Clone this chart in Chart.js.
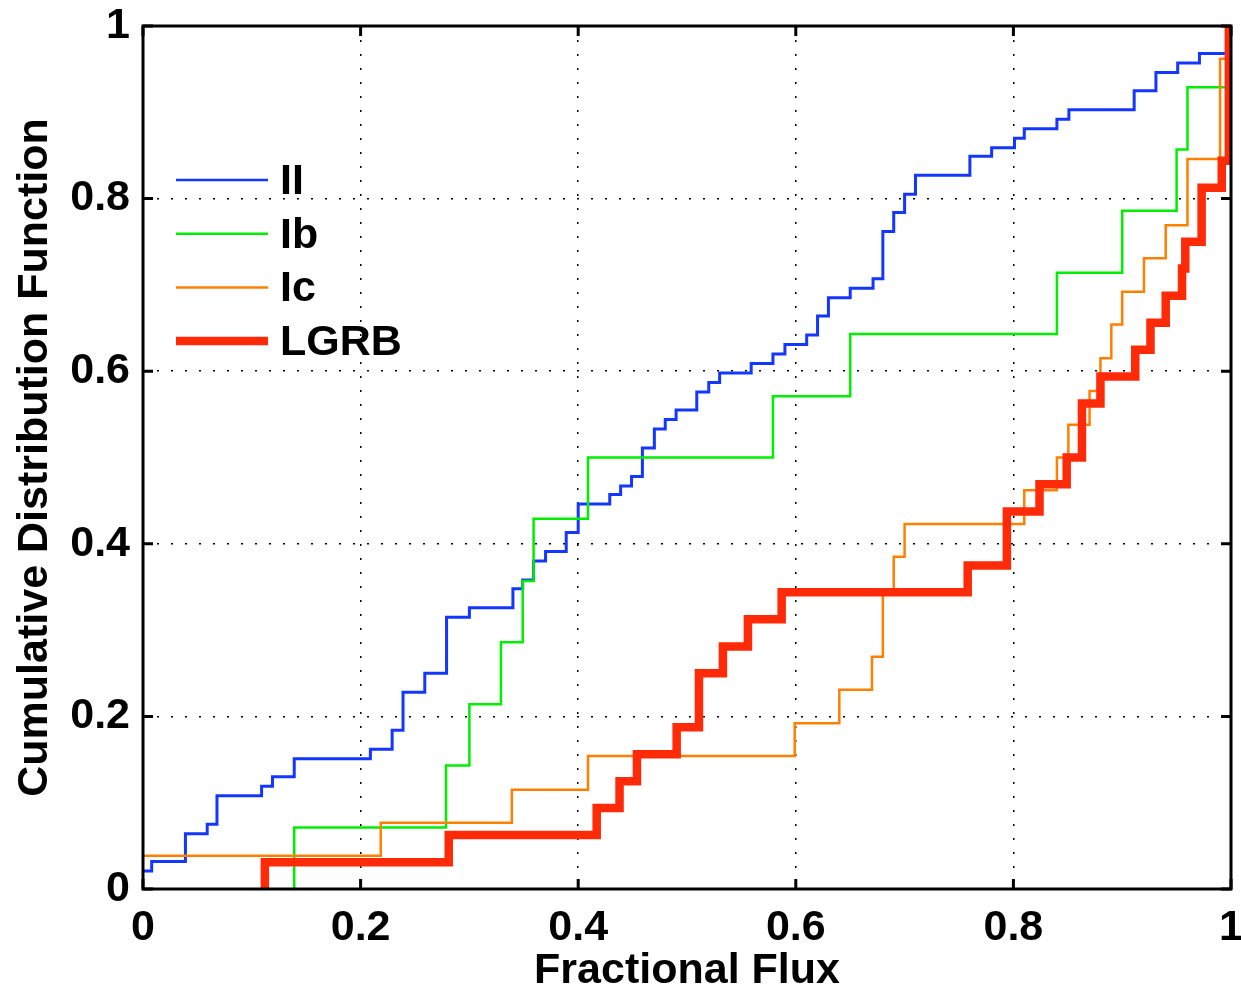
<!DOCTYPE html>
<html>
<head>
<meta charset="utf-8">
<script src="https://cdn.jsdelivr.net/npm/chart.js@4.4.1/dist/chart.umd.min.js"></script>
<style>
    html, body { margin: 0; padding: 0; background: #fff; }
    #cdfChart { display: block; }
</style>
</head>
<body>
<canvas id="cdfChart" width="1241" height="993"></canvas>
<script>
var xTickLabels = ["0", "0.2", "0.4", "0.6", "0.8", "1"];
var yTickLabels = ["0", "0.2", "0.4", "0.6", "0.8", "1"];

// II
var fluxII = [0, 0.008, 0.039, 0.059, 0.068, 0.109, 0.119, 0.139, 0.209, 0.229, 0.239, 0.259, 0.279, 0.300,
    0.340, 0.349, 0.359, 0.370, 0.389, 0.400, 0.429, 0.439, 0.449, 0.459, 0.470, 0.480, 0.490, 0.509,
    0.520, 0.530, 0.559, 0.579, 0.590, 0.610, 0.620, 0.630, 0.650, 0.671, 0.680, 0.690, 0.700, 0.710,
    0.760, 0.780, 0.801, 0.810, 0.840, 0.851, 0.911, 0.931, 0.951, 0.971, 1.0];
var cdfII = [0.021, 0.032, 0.064, 0.075, 0.108, 0.119, 0.130, 0.151, 0.162, 0.184, 0.228, 0.250, 0.315, 0.326,
    0.348, 0.358, 0.380, 0.391, 0.413, 0.446, 0.457, 0.467, 0.478, 0.511, 0.533, 0.544, 0.555, 0.576,
    0.587, 0.598, 0.609, 0.620, 0.631, 0.642, 0.664, 0.685, 0.696, 0.707, 0.762, 0.784, 0.805, 0.827,
    0.849, 0.859, 0.870, 0.881, 0.892, 0.903, 0.925, 0.946, 0.957, 0.968, 1.0];

// Ib
var fluxIb = [0.139, 0.139, 0.2785, 0.300, 0.329, 0.349, 0.359, 0.409, 0.579, 0.650, 0.840, 0.900, 0.950, 0.960, 1.0];
var cdfIb = [0, 0.0714, 0.143, 0.214, 0.286, 0.357, 0.429, 0.500, 0.571, 0.643, 0.714, 0.786, 0.857, 0.929, 1.0];

// Ic
var fluxIc = [0, 0.2185, 0.339, 0.409, 0.599, 0.640, 0.670, 0.680, 0.690, 0.700, 0.810, 0.840, 0.8505,
    0.870, 0.880, 0.890, 0.900, 0.920, 0.940, 0.960, 0.990, 1.0];
var cdfIc = [0.0385, 0.0769, 0.115, 0.154, 0.192, 0.231, 0.269, 0.346, 0.385, 0.423, 0.462, 0.500, 0.538,
    0.577, 0.615, 0.654, 0.692, 0.731, 0.769, 0.846, 0.962, 1.0];

// LGRB
var fluxLGRB = [0.112, 0.112, 0.281, 0.417, 0.438, 0.454, 0.4905, 0.511, 0.533, 0.556, 0.587, 0.758, 0.794,
    0.824, 0.849, 0.863, 0.880, 0.912, 0.926, 0.940, 0.955, 0.958, 0.973, 0.9915, 0.998];
var cdfLGRB = [0, 0.031, 0.0625, 0.094, 0.125, 0.156, 0.1875, 0.250, 0.281, 0.3125, 0.344, 0.375, 0.4375,
    0.469, 0.500, 0.5625, 0.594, 0.625, 0.656, 0.6875, 0.719, 0.750, 0.8125, 0.844, 1.0];

var labelFont = { family: "'Liberation Sans', Arial, sans-serif", size: 43, weight: "bold" };

let toPoints = (xs, ys) => xs.map((x, i) => ({ x: x, y: ys[i] }));

// marco negro y marcas hacia dentro (estilo MATLAB)
var framePlugin = {
    id: "frame",
    afterDatasetsDraw: function(chart) {
        var ctx = chart.ctx;
        var a = chart.chartArea;
        var xs = chart.scales.x;
        var ys = chart.scales.y;
        ctx.save();
        ctx.strokeStyle = "#000";
        ctx.lineWidth = 3;
        ctx.strokeRect(a.left, a.top, a.right - a.left, a.bottom - a.top);
        ctx.beginPath();
        xs.ticks.forEach(function(t) {
            var px = xs.getPixelForValue(t.value);
            ctx.moveTo(px, a.bottom); ctx.lineTo(px, a.bottom - 10);
            ctx.moveTo(px, a.top); ctx.lineTo(px, a.top + 10);
        });
        ys.ticks.forEach(function(t) {
            var py = ys.getPixelForValue(t.value);
            ctx.moveTo(a.left, py); ctx.lineTo(a.left + 10, py);
            ctx.moveTo(a.right, py); ctx.lineTo(a.right - 10, py);
        });
        ctx.stroke();
        ctx.restore();
    }
};

// leyenda sin caja dentro del area
var legendPlugin = {
    id: "innerLegend",
    afterDraw: function(chart) {
        var ctx = chart.ctx;
        var a = chart.chartArea;
        ctx.save();
        ctx.font = "bold 43px 'Liberation Sans', Arial, sans-serif";
        ctx.textBaseline = "middle";
        ctx.textAlign = "left";
        chart.data.datasets.forEach(function(ds, i) {
            var y = a.top + 154 + i * 53.7;
            ctx.strokeStyle = ds.borderColor;
            ctx.lineWidth = ds.legendWidth;
            ctx.beginPath();
            ctx.moveTo(a.left + 33, y);
            ctx.lineTo(a.left + 125, y);
            ctx.stroke();
            ctx.fillStyle = "#000";
            ctx.fillText(ds.label, a.left + 137, y + 2);
        });
        ctx.restore();
    }
};

const data = {
    datasets: [
        { label: "II", data: toPoints(fluxII, cdfII), borderColor: "rgb(20,55,255)", borderWidth: 3, legendWidth: 2.5, order: 4 },
        { label: "Ib", data: toPoints(fluxIb, cdfIb), borderColor: "rgb(0,238,0)", borderWidth: 2.5, legendWidth: 2.5, order: 3 },
        { label: "Ic", data: toPoints(fluxIc, cdfIc), borderColor: "rgb(255,128,0)", borderWidth: 2.5, legendWidth: 2.5, order: 2 },
        { label: "LGRB", data: toPoints(fluxLGRB, cdfLGRB), borderColor: "rgb(255,42,8)", borderWidth: 8.5, legendWidth: 8.5, order: 1 }
    ]
};
data.datasets.forEach(function(ds) {
    ds.stepped = true;
    ds.pointRadius = 0;
    ds.fill = false;
    ds.borderJoinStyle = "miter";
    ds.borderCapStyle = "butt";
});

const config = {
    type: "line",
    data: data,
    options: {
        responsive: false,
        animation: false,
        devicePixelRatio: 1,
        layout: { padding: { left: 0, top: 26, right: 10, bottom: 0 } },
        plugins: { legend: { display: false }, tooltip: { enabled: false } },
        scales: {
            x: {
                type: "linear",
                min: 0,
                max: 1,
                ticks: {
                    stepSize: 0.2,
                    padding: 13,
                    color: "#000",
                    font: labelFont,
                    maxRotation: 0,
                    callback: (v, i) => xTickLabels[i]
                },
                grid: { color: "#000", lineWidth: 1.5, drawTicks: false },
                border: { display: false, dash: [2, 12] },
                title: {
                    display: true,
                    text: "Fractional Flux",
                    color: "#000",
                    font: { family: labelFont.family, size: 43, weight: "bold", lineHeight: 1.0 },
                    padding: { top: 0, bottom: 0 }
                },
                afterFit: function(s) {
                    s.height = 104;
                    s.paddingLeft = 0;
                    s.paddingRight = 0;
                }
            },
            y: {
                type: "linear",
                min: 0,
                max: 1,
                ticks: {
                    stepSize: 0.2,
                    padding: 13,
                    color: "#000",
                    font: labelFont,
                    callback: (v, i) => yTickLabels[i]
                },
                grid: { color: "#000", lineWidth: 1.5, drawTicks: false },
                border: { display: false, dash: [2, 12] },
                title: {
                    display: true,
                    text: "Cumulative Distribution Function",
                    color: "#000",
                    font: { family: labelFont.family, size: 43, weight: "bold", lineHeight: 1.2 },
                    padding: { top: 9, bottom: 0 }
                },
                afterFit: function(s) {
                    s.width = 143;
                    s.paddingTop = 0;
                    s.paddingBottom = 0;
                }
            }
        }
    },
    plugins: [framePlugin, legendPlugin]
};

const ctx = document.getElementById("cdfChart").getContext("2d");
var cdfChart = new Chart(ctx, config);
</script>
</body>
</html>
